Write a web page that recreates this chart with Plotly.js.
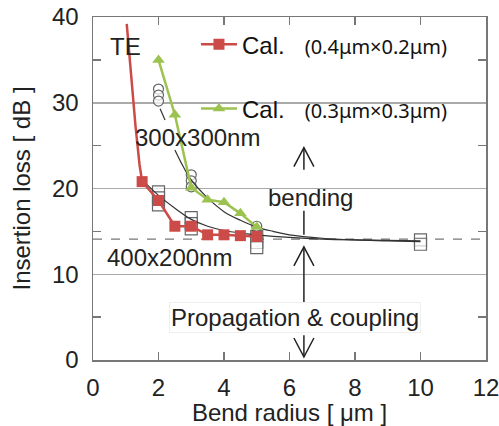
<!DOCTYPE html>
<html><head><meta charset="utf-8">
<script src="https://cdn.plot.ly/plotly-3.0.1.min.js"></script>
<style>html,body{margin:0;padding:0;background:#fff;}#chart{width:499px;height:426px;}</style>
</head><body><div id="chart"></div>
<script>
// Calculated loss, 0.4um x 0.2um waveguide (red squares)
const calRedRadius = [1.5, 2.0, 2.5, 3.0, 3.5, 4.0, 4.5, 5.0];
const calRedLoss   = [20.8, 18.6, 15.6, 15.6, 14.6, 14.6, 14.5, 14.4];
// steep part of the red curve above the first marker (no markers)
const calRedTopRadius = [1.03, 1.15, 1.3, 1.42, 1.5];
const calRedTopLoss   = [39.2, 33.6, 27.2, 22.8, 20.8];
// Calculated loss, 0.3um x 0.3um waveguide (green triangles)
const calGreenRadius = [2.0, 2.5, 3.0, 3.5, 4.0, 4.5, 5.0];
const calGreenLoss   = [35.0, 28.6, 20.1, 18.7, 18.4, 17.1, 15.5];
// Measured, 400x200nm (open squares)
const exp400Radius = [2, 2, 2, 3, 3, 3, 5, 5, 5, 10, 10];
const exp400Loss   = [19.6, 18.9, 18.1, 16.6, 15.9, 15.3, 14.4, 13.7, 13.1, 14.0, 13.5];
// Measured, 300x300nm (open circles)
const exp300Radius = [2, 2, 2, 3, 3, 3, 5];
const exp300Loss   = [31.6, 30.9, 30.2, 21.6, 20.9, 20.2, 15.6];
// Fitted curves (black thin lines)
const fit300Radius = [2.05, 2.2, 2.3, 2.5, 2.75, 3.0, 3.5, 4.0, 4.5, 5.0, 5.5, 6.0, 7.0, 8.0, 9.0, 10.0];
const fit300Loss   = [29.3, 28.0, null, 24.5, 22.6, 21.0, 18.9, 17.3, 16.3, 15.5, 15.0, 14.6, 14.2, 14.0, 13.9, 13.8];
const fit400Radius = [1.5, 2.0, 2.5, 3.0, 3.5, 4.0, 4.5, 5.0, 6.0, 7.0, 8.0, 9.0, 10.0];
const fit400Loss   = [21.0, 19.2, 17.7, 16.4, 15.6, 15.1, 14.8, 14.6, 14.3, 14.1, 14.0, 13.95, 13.9];
// Propagation & coupling baseline
const baselineLoss = 14.1;

const xTicks = [0, 2, 4, 6, 8, 10, 12];
const yTicks = [0, 10, 20, 30, 40];
const yMinorTicks = [5, 15, 25, 35];

const RED = '#cc4a47';
const GREEN = '#9cc250';
const INK = '#222';
const FONT = 'Liberation Sans, Arial, sans-serif';

const traces = [
  {x: exp400Radius, y: exp400Loss, mode: 'markers', showlegend: false, hoverinfo: 'skip',
   marker: {symbol: 'square', size: 12, color: 'rgba(255,255,255,0.7)', line: {color: '#666', width: 1.2}}},
  {x: exp300Radius, y: exp300Loss, mode: 'markers', showlegend: false, hoverinfo: 'skip',
   marker: {symbol: 'circle', size: 10, color: 'rgba(255,255,255,0.7)', line: {color: '#666', width: 1.2}}},
  {x: fit300Radius, y: fit300Loss, mode: 'lines', showlegend: false, hoverinfo: 'skip',
   line: {color: '#333', width: 1.2, shape: 'spline'}, connectgaps: false},
  {x: fit400Radius, y: fit400Loss, mode: 'lines', showlegend: false, hoverinfo: 'skip',
   line: {color: '#333', width: 1.2, shape: 'spline'}},
  {x: calRedTopRadius, y: calRedTopLoss, mode: 'lines', showlegend: false, hoverinfo: 'skip',
   line: {color: RED, width: 2.5}},
  {x: calRedRadius, y: calRedLoss, mode: 'lines+markers', legendgroup: 'a',
   name: 'Cal. &nbsp;&nbsp;<span style="font-size:20px;font-family:Noto Sans">(0.4\u03bcm\u00d70.2\u03bcm)</span>',
   line: {color: RED, width: 2.5}, marker: {symbol: 'square', size: 11, color: RED}},
  {x: calGreenRadius, y: calGreenLoss, mode: 'lines+markers', legendgroup: 'b',
   name: 'Cal. &nbsp;&nbsp;<span style="font-size:20px;font-family:Noto Sans">(0.3\u03bcm\u00d70.3\u03bcm)</span>',
   line: {color: GREEN, width: 2.5}, marker: {symbol: 'triangle-up', size: 11, color: GREEN}}
];

// Arrow annotation guides: shaft from (x, yFrom) to (x, yTo); open chevron head at yTo if dir != 0
const arrowX = 6.44;
const arrowShafts = [
  {from: 22.2, to: 24.76, dir: 1},
  {from: 14.6, to: 17.4, dir: 0},
  {from: 6.2, to: 13.2, dir: 1},
  {from: 2.9, to: 0.35, dir: -1}
];

const shapes = [
  {type: 'line', xref: 'paper', yref: 'y', x0: 0, x1: 1, y0: baselineLoss, y1: baselineLoss,
   line: {color: '#777', width: 1.2, dash: 'dash'}, layer: 'below'}
];
arrowShafts.forEach(a => {
  shapes.push({type: 'line', xref: 'x', yref: 'y', x0: arrowX, x1: arrowX, y0: a.from, y1: a.to,
    line: {color: INK, width: 1.5}});
  if (a.dir !== 0) {
    const d = a.dir > 0 ? -19 : 19;
    shapes.push({type: 'path', xref: 'x', yref: 'y', xsizemode: 'pixel', ysizemode: 'pixel',
      xanchor: arrowX, yanchor: a.to, path: `M-10,${d} L0,0 L10,${d}`,
      line: {color: INK, width: 1.5}});
  }
});

const layout = {
  width: 499, height: 426,
  margin: {l: 93, r: 13, t: 17, b: 66},
  paper_bgcolor: '#fff', plot_bgcolor: '#fff',
  font: {family: FONT, size: 24, color: INK},
  showlegend: true,
  legend: {x: 0.262, y: 0.985, xanchor: 'left', yanchor: 'top', bgcolor: 'rgba(0,0,0,0)',
    font: {family: FONT, size: 24, color: '#111'}, traceorder: 'grouped', tracegroupgap: 30,
    itemwidth: 36},
  xaxis: {range: [0, 12], tickvals: xTicks, ticktext: xTicks.map(String),
    showgrid: false, zeroline: false, showline: true, linecolor: '#777', linewidth: 1.5, mirror: 'ticks',
    ticks: 'inside', ticklen: 8, tickcolor: '#777', tickwidth: 1.5, ticklabelstandoff: 6,
    ticklabeloverflow: 'allow',
    tickfont: {family: FONT, size: 24, color: INK},
    title: {text: 'Bend radius [ \u03bcm ]', font: {family: FONT, size: 24, color: INK}, standoff: 4}},
  yaxis: {range: [0, 40], tickvals: yTicks, ticktext: yTicks.map(String),
    showgrid: true, gridcolor: '#aaa', gridwidth: 1.5, zeroline: false,
    showline: true, linecolor: '#777', linewidth: 1.5, mirror: 'ticks',
    ticks: '', ticklabelstandoff: 8, ticklabeloverflow: 'allow',
    minor: {tickvals: yMinorTicks, ticks: 'inside', ticklen: 8, tickcolor: '#777', tickwidth: 1.5, showgrid: false},
    tickfont: {family: FONT, size: 24, color: INK},
    title: {text: 'Insertion loss [ dB ]', font: {family: FONT, size: 24, color: INK}, standoff: 14}},
  shapes: shapes,
  annotations: [
    {x: 0.98, y: 36.6, xref: 'x', yref: 'y', text: 'TE', showarrow: false, font: {size: 24}},
    {x: 3.18, y: 25.9, xref: 'x', yref: 'y', text: '300x300nm', showarrow: false, font: {size: 24}},
    {x: 2.35, y: 11.9, xref: 'x', yref: 'y', text: '400x200nm', showarrow: false, font: {size: 24}},
    {x: 6.65, y: 19.0, xref: 'x', yref: 'y', text: 'bending', showarrow: false, font: {size: 24}},
    {x: 6.18, y: 4.9, xref: 'x', yref: 'y', text: 'Propagation &amp; coupling', showarrow: false,
     font: {size: 24}, bgcolor: '#fff', bordercolor: '#eee', borderwidth: 1, borderpad: 1}
  ]
};

Plotly.newPlot('chart', traces, layout, {staticPlot: true, displayModeBar: false});
</script>
</body></html>
